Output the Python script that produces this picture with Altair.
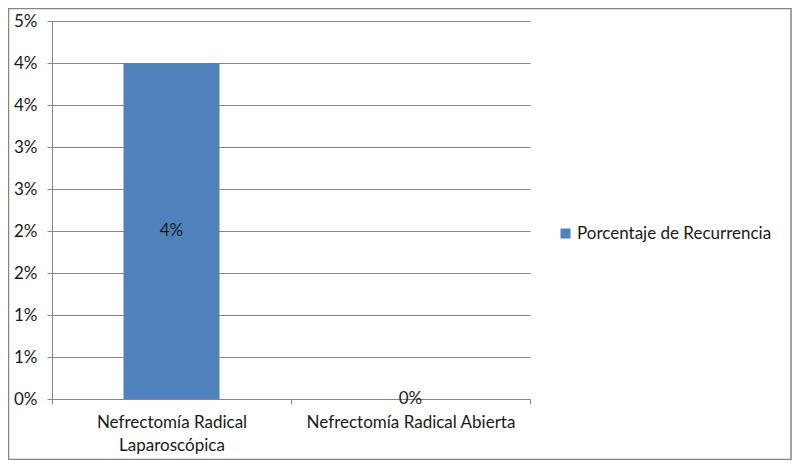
import json
import altair as alt
import pandas as pd

categories = ["Nefrectomía Radical Laparoscópica", "Nefrectomía Radical Abierta"]
x_label_lines = [["Nefrectomía Radical", "Laparoscópica"], ["Nefrectomía Radical Abierta"]]
values = [0.04, 0.0]
value_labels = ["4%", "0%"]
series_name = "Porcentaje de Recurrencia"
y_ticks = [0.0, 0.005, 0.01, 0.015, 0.02, 0.025, 0.03, 0.035, 0.04, 0.045]
y_tick_labels = ["0%", "1%", "1%", "2%", "2%", "3%", "3%", "4%", "4%", "5%"]

df = pd.DataFrame({
    "cat": categories,
    "val": values,
    "lab": value_labels,
    "serie": [series_name] * len(categories),
})

FONT = "Lato"
FS = 17
GRAY = "#868686"
BLUE = "#4F81BD"
TXT = "#1a1a1a"

y_expr = json.dumps(y_tick_labels) + "[round(datum.value*200)]"
x_expr = " : ".join(
    [f"datum.label == {json.dumps(c, ensure_ascii=False)} ? {json.dumps(l, ensure_ascii=False)}"
     for c, l in zip(categories, x_label_lines)] + ["datum.label"]
)

x_enc = alt.X(
    "cat:N", sort=categories, title=None,
    scale=alt.Scale(paddingInner=0, paddingOuter=0),
    axis=alt.Axis(labelAngle=0, tickBand="extent", tickSize=5, tickColor=GRAY,
                  domainColor=GRAY, grid=False, labelFont=FONT, labelFontSize=FS,
                  labelColor=TXT, labelPadding=10, labelLineHeight=23,
                  labelExpr=x_expr, labelLimit=400),
)

bars = alt.Chart(df).mark_bar(size=96).encode(
    x=x_enc,
    y=alt.Y("val:Q", title=None,
            scale=alt.Scale(domain=[0, 0.045], nice=False, zero=True),
            axis=alt.Axis(values=y_ticks, labelExpr=y_expr, grid=True, gridColor=GRAY,
                          tickSize=5, tickColor=GRAY, domainColor=GRAY,
                          labelFont=FONT, labelFontSize=FS, labelColor=TXT,
                          labelPadding=10)),
    color=alt.Color("serie:N", scale=alt.Scale(domain=[series_name], range=[BLUE]),
                    legend=alt.Legend(title=None, orient="none", legendX=505, legendY=204,
                                      symbolType="square", symbolSize=100,
                                      symbolStrokeWidth=0, labelFont=FONT,
                                      labelFontSize=FS, labelColor=TXT, labelOffset=3,
                                      labelLimit=400)),
)

text = alt.Chart(df).transform_calculate(mid="datum.val/2").mark_text(
    baseline="middle", fontSize=FS, font=FONT, color=TXT
).encode(
    x=alt.X("cat:N", sort=categories),
    y=alt.Y("mid:Q", title=None),
    text="lab:N",
)

border = alt.Chart(alt.Data(values=[{}])).mark_rect(
    fillOpacity=0, stroke=GRAY, strokeWidth=1.5
).encode(
    x=alt.value(-43.5), x2=alt.value(739),
    y=alt.value(-12.5), y2=alt.value(438.5),
)

chart = alt.layer(border, bars, text).properties(
    width=478, height=378,
    autosize=alt.AutoSizeParams(type="none"),
    padding={"left": 44, "top": 13, "right": 262, "bottom": 61},
    background="white",
).configure_view(stroke=None)

chart.save("out.html", embed_options={"renderer": "svg", "actions": False})
